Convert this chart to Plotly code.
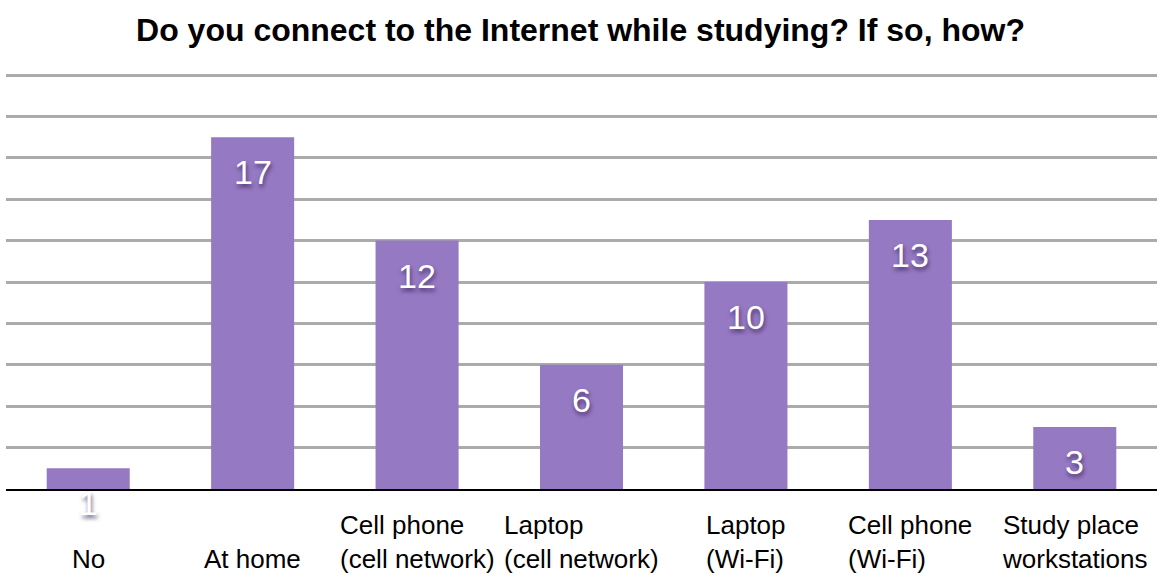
import plotly.graph_objects as go

# Survey answers: how respondents connect to the Internet while studying
categories = [
    "No",
    "At home",
    "Cell phone (cell network)",
    "Laptop (cell network)",
    "Laptop (Wi-Fi)",
    "Cell phone (Wi-Fi)",
    "Study place workstations",
]
category_labels = [
    "No",
    "At home",
    "Cell phone<br>(cell network)",
    "Laptop<br>(cell network)",
    "Laptop<br>(Wi-Fi)",
    "Cell phone<br>(Wi-Fi)",
    "Study place<br>workstations",
]
counts = [1, 17, 12, 6, 10, 13, 3]

FONT = "Liberation Sans, Arial, Helvetica, sans-serif"
BAR_COLOR = "#9679C3"

fig = go.Figure()
fig.add_trace(go.Bar(
    x=categories,
    y=counts,
    marker=dict(color=BAR_COLOR, line=dict(width=0)),
    width=0.505,
    hoverinfo="x+y",
))

# value labels sit just below the top of each bar
for cat, val in zip(categories, counts):
    fig.add_annotation(
        x=cat, y=val, xref="x", yref="y",
        text=str(val), showarrow=False,
        yanchor="middle", yshift=-35,
        font=dict(family=FONT, size=34, color="white",
                  shadow="1px 3px 4px rgba(50,30,80,0.75)"),
    )

# category names under the axis, left-aligned blocks, bottom-aligned
for cat, lab in zip(categories, category_labels):
    fig.add_annotation(
        x=cat, y=0, xref="x", yref="paper",
        text=lab, showarrow=False, align="left",
        xanchor="center", yanchor="bottom", yshift=-87,
        font=dict(family=FONT, size=26, color="black"),
    )

fig.update_layout(
    width=1161, height=579,
    margin=dict(l=6, r=4, t=74, b=90),
    paper_bgcolor="white",
    plot_bgcolor="white",
    showlegend=False,
    title=dict(
        text="<b>Do you connect to the Internet while studying? If so, how?</b>",
        x=0.5, xanchor="center", y=1 - 30 / 579, yanchor="middle",
        font=dict(family=FONT, size=32, color="black"),
    ),
    xaxis=dict(
        showline=True, linecolor="black", linewidth=2,
        ticks="", showgrid=False, showticklabels=False,
    ),
    yaxis=dict(
        range=[0, 20.05], dtick=2, showticklabels=False,
        showgrid=True, gridcolor="#ABABAB", gridwidth=2.5,
        zeroline=False, ticks="",
    ),
)

fig.write_html("out.html")
